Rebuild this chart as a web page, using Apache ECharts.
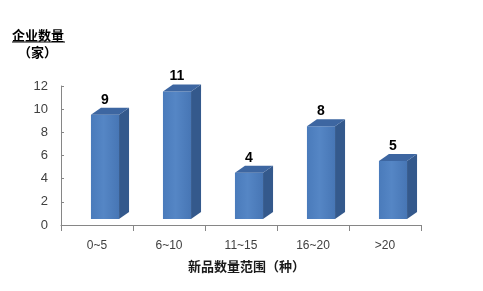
<!DOCTYPE html>
<html>
<head>
<meta charset="utf-8">
<script src="https://cdn.jsdelivr.net/npm/echarts@6/dist/echarts.min.js"></script>
<style>
  html, body { margin: 0; padding: 0; background: #ffffff; }
  #chart { width: 483px; height: 291px; }
</style>
</head>
<body>
<div id="chart"></div>
<script>
// Number of companies by range of new products
const categories = ['0~5', '6~10', '11~15', '16~20', '>20'];
const companyCounts = [9, 11, 4, 8, 5];
const yTicks = [0, 2, 4, 6, 8, 10, 12];

const yAxisTitle = '企业数量';
const yAxisUnit = '（家）';
const xAxisTitle = '新品数量范围（种）';

const cjkFont = '"Noto Sans CJK SC", "Microsoft YaHei", sans-serif';
const latinFont = '"Liberation Sans", Arial, sans-serif';

const chart = echarts.init(document.getElementById('chart'), null, { renderer: 'canvas' });

// Front face shading of each column
const frontFill = new echarts.graphic.LinearGradient(0, 0, 1, 0, [
  { offset: 0, color: '#4a7bbb' },
  { offset: 0.45, color: '#5586c5' },
  { offset: 1, color: '#4776b5' }
]);

// Draws a pseudo-3D column: front face, right side face, top face and value label
function renderColumn(params, api) {
  const idx = api.value(0);
  const val = api.value(1);
  const base = api.coord([idx, 0]);
  const top = api.coord([idx, val]);
  const band = api.size([1, 0])[0];
  const w = band * 0.39;
  const lift = 6, shift = 8, dx = 10, dy = 7;
  const cx = base[0] + shift;
  const x0 = cx - w / 2, x1 = cx + w / 2;
  const yb = base[1] - lift, yt = top[1] - lift;
  return {
    type: 'group',
    children: [
      { type: 'rect', shape: { x: x0, y: yt, width: w, height: yb - yt }, style: { fill: frontFill } },
      { type: 'polygon', shape: { points: [[x1, yt], [x1 + dx, yt - dy], [x1 + dx, yb - dy], [x1, yb]] }, style: { fill: '#34598c' } },
      { type: 'polygon', shape: { points: [[x0, yt], [x0 + dx, yt - dy], [x1 + dx, yt - dy], [x1, yt]] }, style: { fill: '#3d66a1' } },
      {
        type: 'text',
        style: {
          text: String(val), x: cx, y: yt - 15,
          align: 'center', verticalAlign: 'middle',
          fill: '#000000', font: 'bold 14px ' + latinFont
        }
      }
    ]
  };
}

chart.setOption({
  animation: false,
  backgroundColor: '#ffffff',
  grid: { left: 61, right: 62, top: 86, bottom: 66 },
  xAxis: {
    type: 'category',
    data: categories,
    boundaryGap: true,
    axisLine: { show: true, lineStyle: { color: '#868686', width: 1 } },
    axisTick: { show: true, length: 6, alignWithLabel: false, lineStyle: { color: '#868686' } },
    axisLabel: { margin: 15, color: '#404040', fontSize: 12, fontFamily: latinFont, interval: 0 },
    splitLine: { show: false }
  },
  yAxis: {
    type: 'value',
    min: yTicks[0],
    max: yTicks[yTicks.length - 1],
    interval: yTicks[1] - yTicks[0],
    axisLine: { show: true, lineStyle: { color: '#868686', width: 1 } },
    axisTick: { show: true, inside: true, length: 3, lineStyle: { color: '#868686' } },
    axisLabel: { margin: 13, color: '#404040', fontSize: 13, fontFamily: latinFont },
    splitLine: { show: false }
  },
  series: [{
    type: 'custom',
    renderItem: renderColumn,
    encode: { x: 0, y: 1 },
    data: companyCounts.map((v, i) => [i, v]),
    clip: false
  }],
  graphic: [
    {
      type: 'text', left: 12, top: 29,
      style: { text: yAxisTitle, fill: '#000000', font: 'bold 13px ' + cjkFont }
    },
    {
      type: 'line', shape: { x1: 12, y1: 42, x2: 65, y2: 42 },
      style: { stroke: '#000000', lineWidth: 1 }
    },
    {
      type: 'text', left: 18, top: 46,
      style: { text: yAxisUnit, fill: '#000000', font: 'bold 13px ' + cjkFont }
    },
    {
      type: 'text', left: 188, top: 260,
      style: { text: xAxisTitle, fill: '#1a1a1a', font: 'bold 13px ' + cjkFont }
    }
  ]
});
</script>
</body>
</html>
